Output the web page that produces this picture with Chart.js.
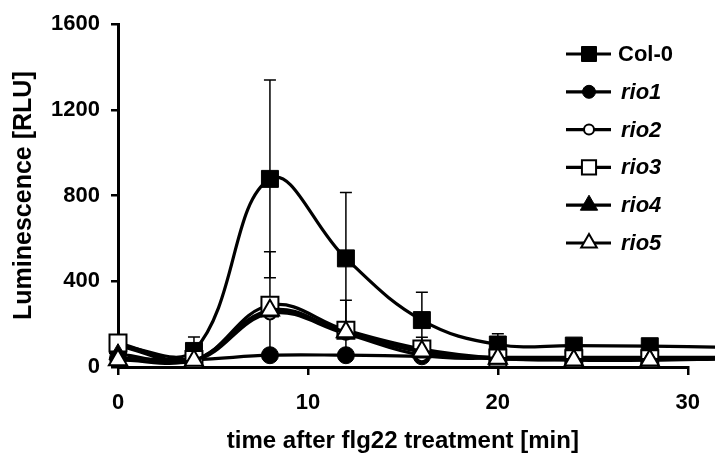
<!DOCTYPE html>
<html>
<head>
<meta charset="utf-8">
<script src="https://cdn.jsdelivr.net/npm/chart.js@4/dist/chart.umd.min.js"></script>
<style>
  html, body { margin: 0; padding: 0; background: #fff; }
  #wrap { width: 715px; height: 456px; }
</style>
</head>
<body>
<div id="wrap"><canvas id="lumChart" width="715" height="456"></canvas></div>
<script>
// time points (min) and mean luminescence (RLU) per line
const times = [0, 4, 8, 12, 16, 20, 24, 28, 32];
const col0 = [100, 75, 878, 507, 219, 105, 100, 97, 92];
const rio1 = [40, 35, 55, 55, 50, 45, 45, 45, 45];
const rio2 = [100, 30, 250, 155, 55, 40, 35, 35, 40];
const rio3 = [112, 35, 288, 172, 84, 42, 38, 38, 42];
const rio4 = [60, 30, 258, 160, 70, 38, 35, 35, 40];
const rio5 = [33, 30, 265, 163, 74, 40, 32, 32, 38];

// standard deviations (0 = no bar)
const col0Err = [0, 65, 462, 307, 130, 50, 0, 0, 0];
const rio3Err = [0, 0, 250, 140, 55, 0, 0, 0, 0];

const yTicks = [0, 400, 800, 1200, 1600];
const xTicks = [0, 10, 20, 30];

const FONT = '"Liberation Sans", Arial, sans-serif';

const toPoints = (ys) => ys.map((y, i) => ({ x: times[i], y: y }));

function series(label, ys, style, radius, filled, order, err) {
  return {
    label: label,
    data: toPoints(ys),
    borderColor: '#000',
    borderWidth: 3.2,
    pointStyle: style,
    pointRadius: radius,
    pointHoverRadius: radius,
    pointBackgroundColor: filled ? '#000' : '#fff',
    pointBorderColor: '#000',
    pointBorderWidth: filled ? 1 : 2,
    tension: 0.4,
    clip: false,
    order: order,
    errors: err || null
  };
}

// vertical error bars with caps, drawn under the lines
const errorBars = {
  id: 'errorBars',
  beforeDatasetsDraw(chart) {
    const ctx = chart.ctx;
    const xs = chart.scales.x, ys = chart.scales.y;
    ctx.save();
    ctx.strokeStyle = '#000';
    ctx.lineWidth = 1.5;
    chart.data.datasets.forEach((ds) => {
      if (!ds.errors) return;
      ds.data.forEach((p, i) => {
        const e = ds.errors[i];
        if (!e) return;
        const px = xs.getPixelForValue(p.x);
        const top = ys.getPixelForValue(p.y + e);
        const bot = ys.getPixelForValue(Math.max(p.y - e, 0));
        ctx.beginPath();
        ctx.moveTo(px, top); ctx.lineTo(px, bot);
        ctx.moveTo(px - 6, top); ctx.lineTo(px + 6, top);
        ctx.moveTo(px - 6, bot); ctx.lineTo(px + 6, bot);
        ctx.stroke();
      });
    });
    ctx.restore();
  }
};

// legend: line + marker, italic names for the mutants
const legendMarks = [
  { style: 'rect', r: 10.6, filled: true },
  { style: 'circle', r: 6.5, filled: true },
  { style: 'circle', r: 5, filled: false },
  { style: 'rect', r: 10, filled: false },
  { style: 'triangle', r: 10, filled: true },
  { style: 'triangle', r: 9, filled: false }
];

const sideLegend = {
  id: 'sideLegend',
  afterDraw(chart) {
    const ctx = chart.ctx;
    ctx.save();
    chart.data.datasets.forEach((ds, i) => {
      const y = 54 + i * 37.8;
      const m = legendMarks[i];
      ctx.strokeStyle = '#000';
      ctx.lineWidth = 3.2;
      ctx.beginPath();
      ctx.moveTo(566, y); ctx.lineTo(611, y);
      ctx.stroke();
      ctx.fillStyle = m.filled ? '#000' : '#fff';
      ctx.lineWidth = m.filled ? 1 : 2;
      Chart.helpers.drawPoint(ctx, { pointStyle: m.style, radius: m.r, borderWidth: ctx.lineWidth, rotation: 0 }, 589, y);
      ctx.fillStyle = '#000';
      ctx.font = (i === 0 ? '' : 'italic ') + 'bold 22px ' + FONT;
      ctx.textBaseline = 'middle';
      ctx.textAlign = 'left';
      ctx.fillText(ds.label, i === 0 ? 618 : 621, y + 1);
    });
    ctx.restore();
  }
};

new Chart(document.getElementById('lumChart').getContext('2d'), {
  type: 'line',
  data: {
    datasets: [
      series('Col-0', col0, 'rect', 12, true, 6, col0Err),
      series('rio1', rio1, 'circle', 8.5, true, 5),
      series('rio2', rio2, 'circle', 6, false, 4),
      series('rio3', rio3, 'rect', 12, false, 3, rio3Err),
      series('rio4', rio4, 'triangle', 10.5, true, 2),
      series('rio5', rio5, 'triangle', 10.5, false, 1)
    ]
  },
  options: {
    responsive: false,
    animation: false,
    events: [],
    layout: { padding: { left: 0, right: 12, top: 23, bottom: 0 } },
    plugins: {
      legend: { display: false },
      tooltip: { enabled: false }
    },
    scales: {
      x: {
        type: 'linear',
        min: 0,
        max: 30,
        afterFit: (s) => { s.height = 89; },
        afterBuildTicks: (s) => { s.ticks = xTicks.map(v => ({ value: v })); },
        border: { display: true, color: '#000', width: 3 },
        grid: { drawOnChartArea: false, drawTicks: true, tickLength: 8, color: '#000', lineWidth: 2.5 },
        ticks: {
          color: '#000',
          padding: 15,
          maxRotation: 0,
          callback: (v) => String(v),
          font: { family: FONT, size: 22, weight: 'bold' }
        },
        title: {
          display: true,
          text: 'time after flg22 treatment [min]',
          color: '#000',
          padding: { top: 0, bottom: 0 },
          font: { family: FONT, size: 24, weight: 'bold' }
        }
      },
      y: {
        min: 0,
        max: 1600,
        afterFit: (s) => { s.width = 118; },
        afterBuildTicks: (s) => { s.ticks = yTicks.map(v => ({ value: v })); },
        border: { display: true, color: '#000', width: 3 },
        grid: { drawOnChartArea: false, drawTicks: true, tickLength: 7, color: '#000', lineWidth: 2.5 },
        ticks: {
          color: '#000',
          padding: 11,
          callback: (v) => String(v),
          font: { family: FONT, size: 22, weight: 'bold' }
        },
        title: {
          display: true,
          text: 'Luminescence [RLU]',
          color: '#000',
          padding: { top: 9, bottom: 0 },
          font: { family: FONT, size: 25, weight: 'bold' }
        }
      }
    }
  },
  plugins: [errorBars, sideLegend]
});
</script>
</body>
</html>
